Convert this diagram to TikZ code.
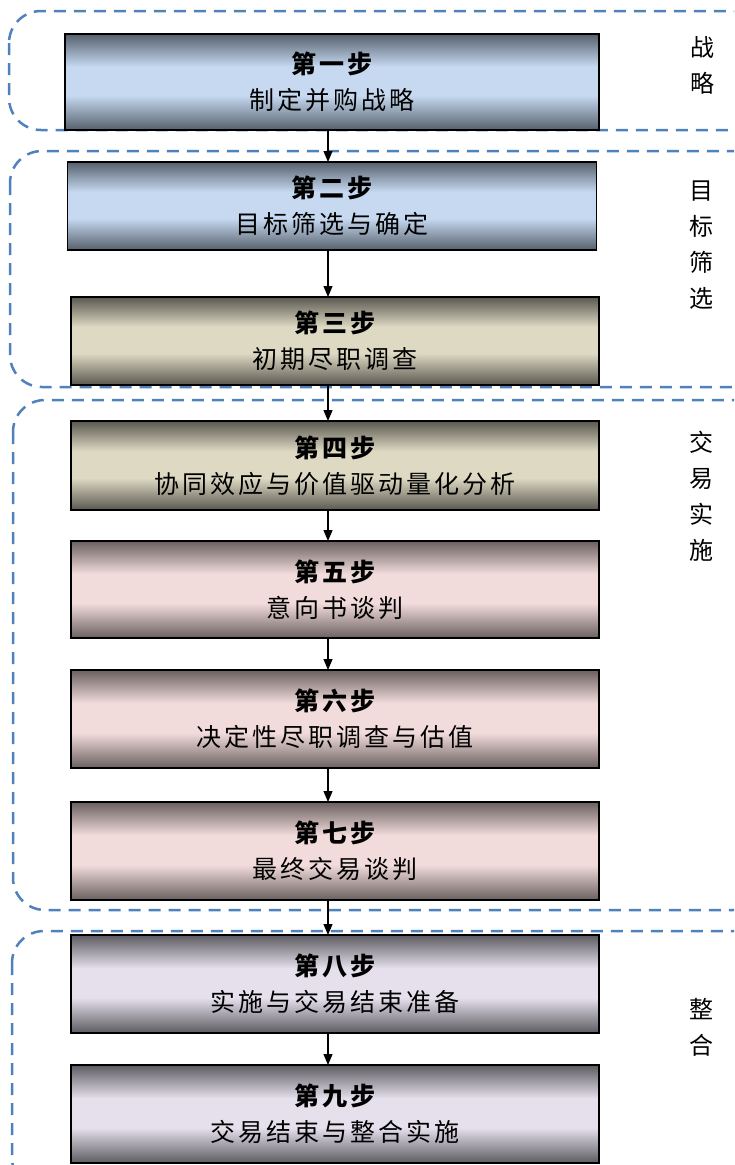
\documentclass[tikz,border=0pt]{standalone}
\usepackage{fontspec}
\usepackage{xcolor}
\usepackage{tikz}
\usetikzlibrary{arrows.meta}
\usetikzlibrary{positioning}

\newfontfamily\cjk[LetterSpace=12]{Noto Sans CJK SC}

\definecolor{groupblue}{HTML}{4F81BD}
\definecolor{blueL}{HTML}{C6D9F1}
\definecolor{blueD}{HTML}{56606C}
\definecolor{oliveL}{HTML}{DDD9C3}
\definecolor{oliveD}{HTML}{5A5850}
\definecolor{pinkL}{HTML}{F2DCDB}
\definecolor{pinkD}{HTML}{6A6060}
\definecolor{lavL}{HTML}{E5E0EC}
\definecolor{lavD}{HTML}{5D5B61}

\pgfdeclareverticalshading{bluestep}{100bp}{color(0bp)=(blueD); color(25bp)=(blueD); color(43bp)=(blueL); color(58bp)=(blueL); color(75bp)=(blueD); color(100bp)=(blueD)}
\pgfdeclareverticalshading{olivestep}{100bp}{color(0bp)=(oliveD); color(25bp)=(oliveD); color(43bp)=(oliveL); color(58bp)=(oliveL); color(75bp)=(oliveD); color(100bp)=(oliveD)}
\pgfdeclareverticalshading{pinkstep}{100bp}{color(0bp)=(pinkD); color(25bp)=(pinkD); color(43bp)=(pinkL); color(58bp)=(pinkL); color(75bp)=(pinkD); color(100bp)=(pinkD)}
\pgfdeclareverticalshading{lavstep}{100bp}{color(0bp)=(lavD); color(25bp)=(lavD); color(43bp)=(lavL); color(58bp)=(lavL); color(75bp)=(lavD); color(100bp)=(lavD)}

\begin{document}
\begin{tikzpicture}[x=1pt,y=-1pt,>={Triangle[length=11pt,width=9pt]},line width=1.2pt,node distance=32pt]
	\tikzstyle{stepbox}=[draw, line width=1.5pt, outer sep=0pt, shade, minimum width=528pt, minimum height=98pt, inner sep=0pt, align=center, font=\cjk\fontsize{25}{36}\selectfont]
	\tikzstyle{group}=[draw=groupblue, dash pattern=on 12pt off 8pt, line width=2.5pt, rounded corners=32pt]
	\tikzstyle{phase}=[align=center, font=\cjk\fontsize{24}{36}\selectfont]
	\useasboundingbox (0,0) rectangle (734,1165);
	\clip (0,0) rectangle (734,1165);
	% phase frames
	\draw[group] (9,11) rectangle (765,130);
	\draw[group] (10,151) rectangle (765,387);
	\draw[group] (13,400) rectangle (765,910);
	\draw[group] (12,931) rectangle (765,1190);
	% steps
	\node[stepbox, shading=bluestep, minimum width=534pt, minimum height=96pt] (s1) at (332,82) {\bfseries 第一步\\制定并购战略};
	\node[stepbox, shading=bluestep, minimum width=529pt, minimum height=88pt] (s2) [below=of s1] {\bfseries 第二步\\目标筛选与确定};
	\node[stepbox, shading=olivestep, minimum height=88pt] (s3) [below=47pt of s2, xshift=3pt] {\bfseries 第三步\\初期尽职调查};
	\node[stepbox, shading=olivestep, minimum height=89pt] (s4) [below=36pt of s3] {\bfseries 第四步\\协同效应与价值驱动量化分析};
	\node[stepbox, shading=pinkstep, minimum height=97pt] (s5) [below=31pt of s4] {\bfseries 第五步\\意向书谈判};
	\node[stepbox, shading=pinkstep] (s6) [below=of s5] {\bfseries 第六步\\决定性尽职调查与估值};
	\node[stepbox, shading=pinkstep] (s7) [below=34pt of s6] {\bfseries 第七步\\最终交易谈判};
	\node[stepbox, shading=lavstep] (s8) [below=35pt of s7] {\bfseries 第八步\\实施与交易结束准备};
	\node[stepbox, shading=lavstep] (s9) [below=of s8] {\bfseries 第九步\\交易结束与整合实施};
	% phases
	\node[phase] (p1) at (702,65) {战\\略};
	\node[phase] (p2) at (701,245) {目\\标\\筛\\选};
	\node[phase] (p3) at (701,496) {交\\易\\实\\施};
	\node[phase] (p4) at (701,1027) {整\\合};
	% arrows
	\coordinate (axis) at (328,0);
	\foreach \a/\b in {s1/s2,s2/s3,s3/s4,s4/s5,s5/s6,s6/s7,s7/s8,s8/s9}
		\draw[->] (\a.south -| axis) -- (\b.north -| axis);
\end{tikzpicture}
\end{document}
